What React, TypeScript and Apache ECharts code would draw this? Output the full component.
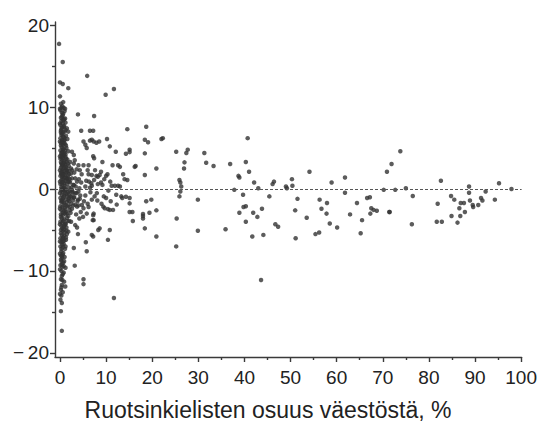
import React, { useEffect, useRef } from "react";
import * as echarts from "echarts";

// Tick values
const xTickValues = [0, 10, 20, 30, 40, 50, 60, 70, 80, 90, 100];
const xMinorTickValues = [5, 15, 25, 35, 45, 55, 65, 75, 85, 95];
const yTickValues = [-20, -10, 0, 10, 20];
const yMinorTickValues = [-15, -5, 5, 15];

const xAxisTitle = "Ruotsinkielisten osuus väestöstä, %";

// Points: [share of Swedish speakers %, value]
const columnUpper: number[][] = [
  [0.2, 10.4], [0.5, 10.1], [0.8, 9.9], [0.1, 9.6], [0.4, 9.3], [1.0, 9.5], [0.6, 9.0], [0.2, 8.7],
  [0.9, 8.5], [0.3, 8.3], [0.6, 8.0], [1.2, 8.1], [0.1, 7.8], [0.4, 7.5], [0.8, 7.6], [1.5, 7.4],
  [0.2, 7.1], [0.6, 6.9], [1.0, 7.0], [0.3, 6.6], [0.7, 6.4], [1.3, 6.5], [0.1, 6.2], [0.5, 6.0],
  [0.9, 5.9], [1.6, 6.1], [0.2, 5.6], [0.6, 5.4], [1.1, 5.5], [0.4, 5.1], [0.8, 4.9], [1.4, 5.0],
  [0.1, 4.7], [0.5, 4.5], [1.0, 4.4], [1.8, 4.6], [0.3, 4.2], [0.7, 4.0], [1.2, 3.9], [0.1, 3.7],
  [0.5, 3.5], [0.9, 3.4], [1.6, 3.6], [2.2, 3.3], [0.3, 3.1], [0.7, 2.9], [1.1, 3.0], [1.9, 2.8],
  [0.2, 2.6], [0.6, 2.4], [1.0, 2.5], [1.5, 2.3], [2.4, 2.5], [0.4, 2.1], [0.8, 1.9], [1.3, 2.0],
  [2.0, 1.8], [0.1, 1.6], [0.5, 1.5], [0.9, 1.4], [1.7, 1.6], [2.6, 1.3], [0.3, 1.1], [0.7, 0.9],
  [1.2, 1.0], [2.2, 0.8], [0.1, 0.6], [0.5, 0.5], [1.0, 0.4], [1.5, 0.6], [2.9, 0.5], [0.3, 0.2],
  [0.8, 0.1], [1.9, 0.2], [3.4, 0.3], [4.2, 0.1],
  [0.0, 9.8], [0.7, 9.2], [0.4, 8.8], [1.1, 8.6], [0.0, 8.0], [0.9, 7.7], [0.3, 7.3], [1.2, 7.2],
  [0.5, 6.7], [0.9, 6.3], [0.0, 5.8], [0.8, 5.6], [1.3, 5.3], [0.2, 5.3], [0.6, 4.8], [1.1, 4.7],
  [0.3, 4.4], [0.8, 4.2], [0.0, 4.0], [0.6, 3.8], [1.3, 3.7], [0.2, 3.3], [0.9, 3.2], [1.4, 3.3],
  [0.4, 2.8], [1.2, 2.7], [0.0, 2.3], [0.8, 2.2], [1.6, 2.1], [0.3, 1.8], [1.1, 1.7], [0.6, 1.2],
  [1.5, 1.2], [0.0, 0.9], [0.9, 0.7], [0.4, 0.0], [1.3, -0.1],
  [0.3, 9.9], [0.7, 8.4], [0.2, 6.9], [1.0, 6.0], [0.4, 5.8], [1.2, 4.2], [0.3, 3.9], [1.7, 3.1],
  [0.5, 3.0], [1.4, 2.6], [0.2, 2.0], [1.8, 2.2], [0.6, 1.7], [1.3, 1.4], [2.1, 1.2], [0.4, 0.8],
  [1.7, 0.9], [2.5, 0.2], [1.1, 0.1], [0.6, -0.1],
];

const columnLower: number[][] = [
  [0.2, -0.2], [0.6, -0.3], [1.1, -0.2], [1.8, -0.4], [2.7, -0.3], [3.6, -0.5], [0.4, -0.7], [0.9, -0.8],
  [1.4, -0.6], [2.3, -0.9], [3.1, -1.0], [4.4, -0.8], [0.1, -1.1], [0.6, -1.2], [1.2, -1.3], [1.9, -1.1],
  [2.8, -1.4], [3.9, -1.3], [0.3, -1.6], [0.8, -1.7], [1.5, -1.6], [2.4, -1.8], [3.3, -1.9], [0.1, -2.1],
  [0.5, -2.2], [1.0, -2.3], [1.7, -2.1], [2.6, -2.4], [0.3, -2.6], [0.8, -2.7], [1.3, -2.8], [2.1, -2.6],
  [0.2, -3.1], [0.6, -3.2], [1.1, -3.0], [1.8, -3.3], [0.4, -3.6], [0.9, -3.7], [1.5, -3.5], [0.1, -4.0],
  [0.5, -4.1], [1.2, -4.2], [2.0, -3.9], [0.3, -4.5], [0.8, -4.6], [1.4, -4.7], [0.2, -5.0], [0.6, -5.1],
  [1.0, -5.3], [1.8, -5.2], [0.4, -5.6], [0.9, -5.7], [0.1, -6.0], [0.5, -6.1], [1.3, -6.2], [0.3, -6.5],
  [0.8, -6.7], [0.1, -7.0], [0.6, -7.1], [1.1, -7.3], [0.3, -7.6], [0.7, -7.8], [0.2, -8.1], [0.5, -8.4],
  [1.0, -8.3], [0.3, -8.8], [0.7, -9.0], [0.1, -9.3], [0.5, -9.5], [1.2, -9.6], [0.3, -10.0], [0.8, -10.2],
  [0.4, -10.6], [0.2, -11.0], [0.9, -11.3], [0.4, -11.7], [0.2, -12.3], [0.6, -12.6], [0.3, -13.0], [0.1, -13.5],
  [0.0, -0.5], [0.8, -1.0], [0.3, -1.4], [1.0, -1.9], [0.0, -2.4], [0.6, -2.9], [1.5, -3.0], [0.2, -3.4],
  [0.7, -3.9], [0.0, -4.3], [1.0, -4.4], [0.5, -4.8], [0.2, -5.4], [0.7, -5.9], [0.0, -6.4], [0.5, -6.8],
  [0.9, -6.3], [0.3, -7.3], [0.0, -7.9], [0.6, -8.0], [0.2, -8.6], [0.9, -8.8], [0.4, -9.2], [0.0, -9.8],
  [0.6, -10.4],
  [1.6, -0.9], [2.0, -1.5], [1.2, -2.5], [2.3, -2.9], [1.6, -3.9], [0.9, -4.9], [1.5, -5.5], [0.6, -6.4],
  [1.2, -7.0], [0.4, -8.2], [0.8, -9.4], [0.5, -11.1], [1.1, -0.5], [2.1, -0.2], [0.5, -1.5], [1.4, -2.0],
];

const columnOutliers: number[][] = [
  [-0.2, 17.7], [0.6, 15.5], [0.0, 13.0], [0.6, 12.8], [1.8, 12.3], [0.0, 11.3], [0.7, 10.6], [1.1, 9.8],
  [1.8, 7.0], [0.4, -13.9], [0.2, -14.9], [0.4, -17.3], [0.0, -12.8], [0.3, -12.0],
];

const nearCloud: number[][] = [
  [2.6, 4.55], [3.0, 4.15], [3.2, 3.5], [3.0, 3.1], [4.0, 2.9], [5.1, 2.9], [6.2, 2.9], [2.6, 2.3],
  [3.6, 2.4], [4.7, 1.8], [6.2, 1.8], [6.9, 1.7], [1.7, 1.3], [3.3, 1.3], [3.7, 0.9], [4.6, 0.8],
  [5.5, 0.3], [6.5, 0.15], [6.9, 0.4], [2.6, -0.1], [4.0, -0.3], [1.9, -1.3], [3.0, -1.05], [3.7, -2.15],
  [4.75, -1.95], [5.1, -2.35], [6.9, -1.3], [7.3, -3.0], [7.3, -3.8], [5.0, -3.4], [3.3, -4.4], [3.7, -4.7],
  [3.9, -5.5], [6.9, -5.6], [5.6, -6.5], [3.0, -7.2], [5.8, -7.6], [3.2, -9.35], [5.1, -11.0], [5.1, -11.6],
  [1.15, -11.9], [1.2, -4.3], [1.4, -5.1], [1.3, -5.9], [5.1, 5.8], [5.5, 5.4], [5.8, 5.0], [6.9, 6.0],
  [7.3, 5.8], [3.9, 9.1], [4.6, 7.1], [6.5, 7.1],
  [2.0, -0.6], [2.5, -1.0], [3.3, -0.5], [4.3, -1.2], [5.5, -0.8], [6.0, -1.8], [3.8, -1.5], [2.9, -2.0],
  [4.5, -2.8], [6.2, -2.2], [5.8, -3.0], [2.1, -2.2], [3.5, -3.1], [4.2, -3.6], [2.4, -4.0], [2.8, -0.5],
  [6.6, -0.4], [7.5, -0.9], [5.2, -1.5], [4.0, -2.0],
  [2.0, 0.9], [3.0, 0.5], [4.1, 1.2], [5.7, 1.0], [2.4, 1.9], [3.1, 2.0], [4.3, 2.3], [7.6, 2.3],
  [8.9, 2.1], [6.0, 2.3], [9.6, 1.2], [10.9, 0.9], [7.4, 1.1], [8.1, -1.4], [9.0, -1.8], [10.0, -1.1],
  [11.0, -1.5], [12.3, -1.9],
];

const midPoints: number[][] = [
  [5.9, 13.8], [11.7, 12.2], [9.9, 11.5], [7.4, 8.9], [7.2, 7.1], [14.6, 7.3], [6.5, 5.9], [7.9, 5.65],
  [8.5, 5.8], [10.2, 6.1], [10.8, 5.2], [12.1, 4.55], [15.1, 4.8], [14.3, 4.3], [7.2, 4.0], [7.4, 3.75],
  [9.2, 3.3], [11.4, 2.9], [12.6, 2.9], [13.0, 2.7], [16.4, 2.8], [7.9, 1.6], [8.2, 1.5], [8.6, 1.7],
  [10.0, 1.6], [10.3, 1.8], [13.7, 1.8], [14.0, 1.2], [14.6, 1.1], [6.3, 0.9], [6.8, 0.7], [8.2, 0.6],
  [8.9, 0.8], [9.2, 0.5], [11.2, 0.4], [11.9, 0.4], [12.6, 0.4], [13.0, 0.3], [15.1, -1.1], [15.1, -1.75],
  [15.8, -3.9], [12.2, -0.7], [13.3, -0.9], [13.5, -1.1], [14.3, -0.95], [9.4, -2.15], [9.7, -2.35], [10.4, -2.45],
  [10.8, -2.55], [11.5, -2.55], [7.2, -3.2], [7.1, -3.8], [8.6, -4.8], [8.3, -5.0], [10.8, -5.0], [10.4, -6.2],
  [7.2, -5.8], [11.7, -13.3], [8.0, -0.5], [9.5, -0.9], [10.5, -0.2], [15.7, -2.8],
];

const farPoints: number[][] = [
  [18.7, 7.6], [15.1, 4.5], [18.4, 6.0], [19.1, 5.7], [22.0, 6.1], [22.3, 6.2], [18.4, 4.35], [16.2, 2.7],
  [20.9, 2.5], [18.4, 1.7], [25.2, 4.55], [27.7, 4.8], [27.4, 4.4], [27.0, 3.25], [26.9, 2.5], [25.9, 1.1],
  [26.1, 0.8], [26.3, 0.3], [26.1, -0.3], [25.9, -0.9], [31.3, 4.4], [31.7, 3.2], [33.3, 2.8], [36.9, 3.05],
  [40.7, 6.2], [40.3, 3.3], [41.0, 2.1], [38.7, 1.6], [38.9, 1.4], [42.1, 0.8], [37.8, -0.1], [39.7, -0.7],
  [40.3, -2.1], [39.8, -2.2], [38.9, -2.9], [41.9, -2.9], [42.8, -3.4], [40.3, -4.0], [41.7, -5.8], [35.9, -4.9],
  [29.9, -1.3], [29.9, -5.1], [25.3, -3.6], [25.2, -7.0], [20.9, -5.8], [18.4, -4.8], [20.9, -2.6], [19.8, -1.3],
  [18.7, -1.5], [19.4, -2.9], [18.0, -3.05], [18.0, -3.3], [18.0, -3.6], [15.1, -2.8], [43.6, -11.1],
  [43.0, 0.1], [46.1, 0.6], [46.4, 0.9], [49.0, 0.3], [49.2, 0.1], [50.3, 1.2], [50.4, 0.4], [54.1, 2.1],
  [58.9, 0.8], [61.8, 1.4], [61.8, -0.45], [70.9, 2.1], [45.4, -0.9], [51.5, -1.2], [43.8, -2.4], [46.7, -4.3],
  [47.3, -4.6], [44.1, -5.6], [51.0, -2.6], [51.1, -6.0], [53.5, -3.5], [56.3, -1.3], [56.7, -2.4], [57.9, -1.7],
  [57.8, -3.0], [58.5, -4.2], [60.1, -4.7], [55.4, -5.5], [56.2, -5.3], [62.9, -3.1], [64.4, -1.7], [65.5, -3.8],
  [65.2, -5.4], [66.6, -1.1], [67.2, -1.0], [67.5, -2.35], [68.0, -2.55], [68.7, -2.65], [67.3, -3.0], [71.4, -2.8],
  [73.8, 4.6], [71.9, 3.05], [70.2, -0.1], [72.7, -0.1], [75.0, 0.1], [76.5, -0.85], [71.5, -2.8], [76.3, -4.3],
  [82.6, 1.0], [81.9, -1.8], [81.7, -4.0], [82.8, -4.0], [84.8, -0.85], [85.5, -1.3], [86.9, -1.7], [87.6, -1.7],
  [86.6, -2.35], [87.8, -2.8], [84.9, -3.3], [86.8, -3.3], [86.2, -4.1], [88.7, 0.3], [88.7, -0.45], [88.9, -1.4],
  [89.5, -1.95], [89.6, -2.2], [90.7, -1.95], [91.3, -1.1], [91.6, -1.4], [92.3, -0.3], [94.3, -1.3], [95.2, 0.7],
  [97.9, 0.0],
];

const FONT = "'Liberation Sans', Arial, Helvetica, sans-serif";
const INK = "#222";
const X_MIN = -1.08;
const X_MAX = 100.1;
const Y_MIN = -20.49;
const Y_MAX = 20.37;

const fmtY = (v: number) => (v < 0 ? "\u2212\u2009" + Math.abs(v) : String(v));

export default function App() {
  const ref = useRef<HTMLDivElement>(null);

  useEffect(() => {
    if (!ref.current) return;
    const chart = echarts.init(ref.current, undefined, { renderer: "svg" });
    const allPoints = [
      ...columnUpper,
      ...columnLower,
      ...columnOutliers,
      ...nearCloud,
      ...midPoints,
      ...farPoints,
    ];
    const axisLineStyle = { color: "#3a3a3a", width: 1.4 };
    chart.setOption({
      animation: false,
      backgroundColor: "#fff",
      grid: { left: 55, right: 16, top: 22, bottom: 73, containLabel: false },
      xAxis: [
        {
          type: "value",
          min: X_MIN,
          max: X_MAX,
          axisLine: { show: true, onZero: false, lineStyle: axisLineStyle },
          axisTick: { show: true, length: 5, customValues: xTickValues, lineStyle: axisLineStyle },
          axisLabel: {
            customValues: xTickValues,
            margin: 11,
            fontSize: 19,
            color: INK,
            fontFamily: FONT,
          },
          splitLine: { show: false },
        },
        {
          type: "value",
          min: X_MIN,
          max: X_MAX,
          position: "bottom",
          axisLine: { show: false, onZero: false },
          axisTick: { show: true, length: 3, customValues: xMinorTickValues, lineStyle: axisLineStyle },
          axisLabel: { show: false },
          splitLine: { show: false },
        },
      ],
      yAxis: [
        {
          type: "value",
          min: Y_MIN,
          max: Y_MAX,
          axisLine: { show: true, onZero: false, lineStyle: axisLineStyle },
          axisTick: { show: true, length: 5, customValues: yTickValues, lineStyle: axisLineStyle },
          axisLabel: {
            customValues: yTickValues,
            margin: 6,
            fontSize: 19,
            color: INK,
            fontFamily: FONT,
            formatter: fmtY,
          },
          splitLine: { show: false },
        },
        {
          type: "value",
          min: Y_MIN,
          max: Y_MAX,
          position: "left",
          axisLine: { show: false, onZero: false },
          axisTick: { show: true, length: 3, customValues: yMinorTickValues, lineStyle: axisLineStyle },
          axisLabel: { show: false },
          splitLine: { show: false },
        },
      ],
      series: [
        {
          type: "scatter",
          xAxisIndex: 0,
          yAxisIndex: 0,
          symbol: "circle",
          symbolSize: 4.5,
          itemStyle: { color: "#333" },
          data: allPoints,
          markLine: {
            silent: true,
            symbol: "none",
            label: { show: false },
            lineStyle: { color: "#555", width: 1, type: [3, 2] },
            data: [{ yAxis: 0 }],
          },
          z: 3,
        },
      ],
      graphic: [
        {
          type: "text",
          x: 268,
          y: 410,
          style: {
            text: xAxisTitle,
            fontSize: 23,
            fontFamily: FONT,
            fill: INK,
            align: "center",
            verticalAlign: "middle",
          },
        },
      ],
    });
    return () => chart.dispose();
  }, []);

  return <div ref={ref} style={{ width: 540, height: 430, position: "absolute", left: 0, top: 0 }} />;
}
